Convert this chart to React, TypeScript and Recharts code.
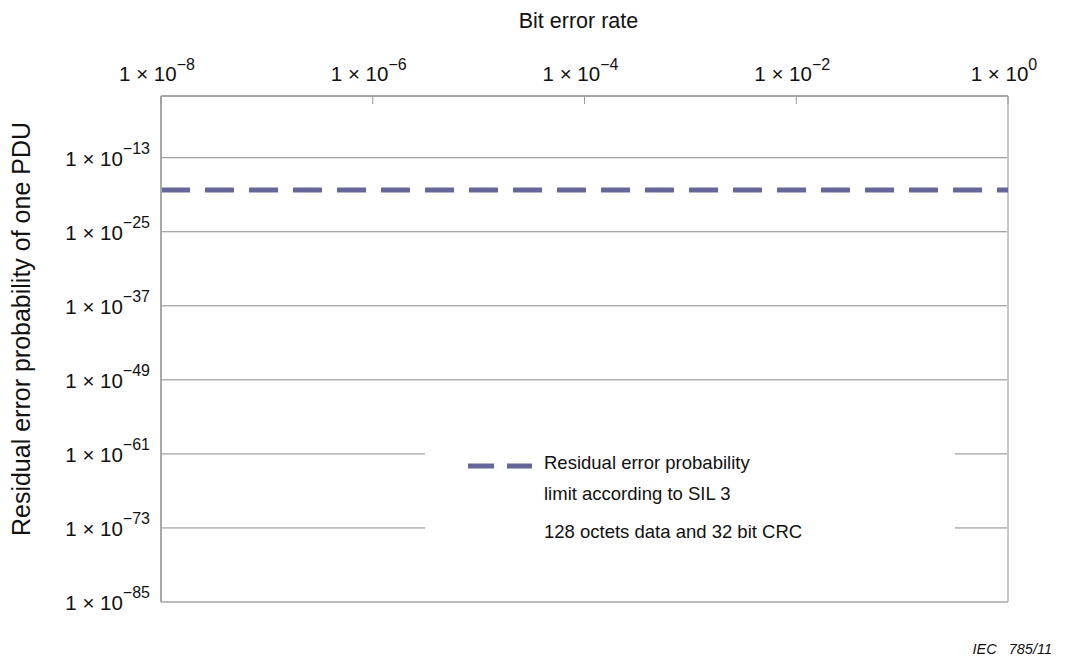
import React from 'react';
import { LineChart, Line, XAxis, YAxis, CartesianGrid, Legend, ReferenceLine } from 'recharts';

const xTickExps = [-8, -6, -4, -2, 0];
const yTickExps = [-85, -73, -61, -49, -37, -25, -13];
const xDomain = [1e-8, 1];
const yDomain = [1e-85, 1e-3];

const berValues = [1e-8, 1];
const silLimitValues = [6e-19, 6e-19];

const seriesNames = ['Residual error probability|limit according to SIL 3', '128 octets data and 32 bit CRC'];

const xTitle = 'Bit error rate';
const yTitle = 'Residual error probability of one PDU';
const footer = 'IEC   785/11';

const data = berValues.map((b, i) => ({ ber: b, limit: silLimitValues[i] }));

const FONT = '"Liberation Sans", Arial, Helvetica, sans-serif';
const LIMIT_COLOR = '#666699';

const expOf = (v: number) => Math.round(Math.log10(v));
const fmtExp = (e: number) => (e < 0 ? '\u2212' + Math.abs(e) : String(e));

const XTick = (props: any) => {
  const { x, y, payload } = props;
  const e = expOf(payload.value);
  return (
    <g>
      <line x1={x} y1={y} x2={x} y2={y + 8} stroke="#999" strokeWidth={1} />
      <text x={x - 4} y={y - 15} textAnchor="middle" fontFamily={FONT} fontSize={20.5} fill="#111">
        <tspan>1 × 10</tspan>
        <tspan dy={-11} fontSize={16}>{fmtExp(e)}</tspan>
      </text>
    </g>
  );
};

const YTick = (props: any) => {
  const { x, y, payload } = props;
  const e = expOf(payload.value);
  return (
    <text x={x - 11} y={y + 8} textAnchor="end" fontFamily={FONT} fontSize={20.5} fill="#111">
      <tspan>1 × 10</tspan>
      <tspan dy={-12} fontSize={16}>{fmtExp(e)}</tspan>
    </text>
  );
};

const XTitle = (props: any) => {
  const vb = props.viewBox || { x: 153, y: 0, width: 847, height: 88 };
  return (
    <text x={vb.x + vb.width / 2 - 6} y={vb.y + 20} textAnchor="middle" fontFamily={FONT} fontSize={21.5} fill="#111">
      {xTitle}
    </text>
  );
};

const YTitle = (props: any) => {
  const vb = props.viewBox || { x: 0, y: 88, width: 153, height: 506 };
  const cx = vb.x + 22;
  const cy = vb.y + vb.height / 2 - 20;
  return (
    <text x={cx} y={cy} transform={`rotate(-90, ${cx}, ${cy})`} textAnchor="middle" fontFamily={FONT} fontSize={25} fill="#111">
      {yTitle}
    </text>
  );
};

const LegendBox = () => {
  const [first, second] = seriesNames;
  const lines = first.split('|');
  return (
    <svg width={530} height={130} style={{ display: 'block' }}>
      <line x1={43} y1={46} x2={107} y2={46} stroke={LIMIT_COLOR} strokeWidth={5} strokeDasharray="26 13" />
      <text x={119} y={49} fontFamily={FONT} fontSize={18.5} fill="#111">{lines[0]}</text>
      <text x={119} y={80} fontFamily={FONT} fontSize={18.5} fill="#111">{lines[1]}</text>
      <text x={119} y={118} fontFamily={FONT} fontSize={18.5} fill="#111">{second}</text>
    </svg>
  );
};

export default function App() {
  const xTicks = xTickExps.map((e) => Math.pow(10, e));
  const yTicks = yTickExps.map((e) => Math.pow(10, e));
  return (
    <div style={{ position: 'relative', width: 1050, height: 659 }}>
      <LineChart width={1050} height={659} data={data} margin={{ top: 0, right: 50, bottom: 65, left: 0 }}>
        <CartesianGrid vertical={false} stroke="#8a8a8a" strokeWidth={1} />
        <XAxis
          dataKey="ber"
          type="number"
          scale="log"
          domain={xDomain}
          ticks={xTicks}
          orientation="top"
          height={88}
          allowDataOverflow
          tickSize={0}
          tickMargin={0}
          tick={<XTick />}
          axisLine={{ stroke: '#888', strokeWidth: 1 }}
          tickLine={false}
          label={{ content: XTitle }}
        />
        <YAxis
          type="number"
          scale="log"
          domain={yDomain}
          ticks={yTicks}
          width={153}
          allowDataOverflow
          tickSize={0}
          tickMargin={0}
          tick={<YTick />}
          axisLine={{ stroke: '#a8a8a8', strokeWidth: 2 }}
          tickLine={false}
          label={{ content: YTitle }}
        />
        <ReferenceLine x={1} stroke="#c8c8c8" strokeWidth={2} />
        <ReferenceLine y={1e-85} stroke="#bdbdbd" strokeWidth={2} />
        <Line
          dataKey="limit"
          stroke={LIMIT_COLOR}
          strokeWidth={5}
          strokeDasharray="29 15"
          dot={false}
          activeDot={false}
          legendType="none"
          isAnimationActive={false}
        />
        <Legend
          layout="horizontal"
          verticalAlign="middle"
          align="center"
          content={<LegendBox />}
          wrapperStyle={{ position: 'absolute', left: 417, top: 412, width: 530, height: 130, background: '#fff' }}
        />
      </LineChart>
      <svg width={1050} height={659} style={{ position: 'absolute', left: 0, top: 0, pointerEvents: 'none' }}>
        <text x={1044} y={646} textAnchor="end" fontFamily={FONT} fontStyle="italic" fontSize={14.5} fill="#111" style={{ whiteSpace: 'pre' }}>
          {footer}
        </text>
      </svg>
    </div>
  );
}
